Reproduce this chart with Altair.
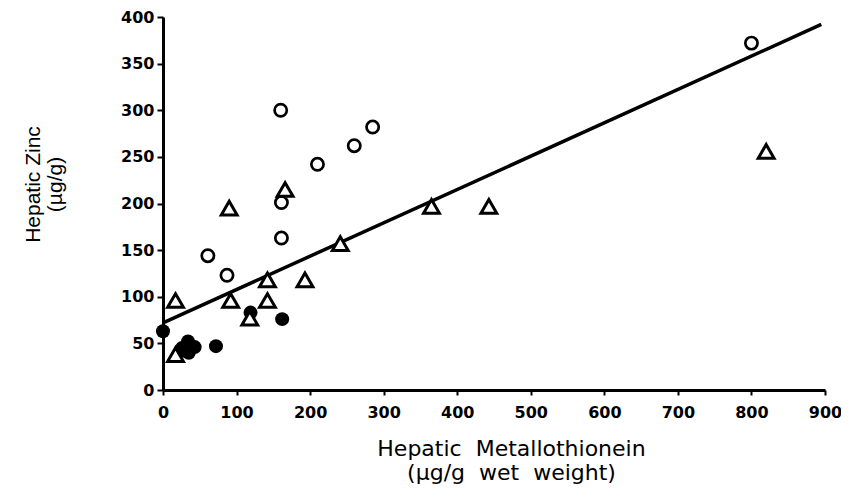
import altair as alt
import pandas as pd

# ---- data ----
open_circle_x = [61, 87, 160, 161, 161, 210, 260, 285, 800]
open_circle_y = [144, 123, 300, 201, 163, 242, 262, 282, 372]

triangle_x = [17, 17, 90, 92, 118, 142, 142, 166, 193, 241, 365, 443, 820]
triangle_y = [96, 38, 195, 96, 77, 118, 96, 215, 118, 157, 197, 197, 256]

filled_x = [0, 26, 30, 34, 35, 43, 72, 119, 162]
filled_y = [63, 45, 42, 52, 40, 46, 47, 83, 76]

fit_x = [0, 895]
fit_y = [72, 392]

x_ticks = list(range(0, 901, 50))
y_ticks = list(range(0, 401, 50))

x_title = ["Hepatic\u00a0 Metallothionein", "(µg/g\u00a0 wet\u00a0 weight)"]
y_title = ["Hepatic Zinc", "(µg/g)"]

circles = pd.DataFrame({"x": open_circle_x, "y": open_circle_y})
triangles = pd.DataFrame({"x": triangle_x, "y": triangle_y})
filled = pd.DataFrame({"x": filled_x, "y": filled_y})
fit = pd.DataFrame({"x": fit_x, "y": fit_y})

xscale = alt.Scale(domain=[0, 900], nice=False, zero=False)
yscale = alt.Scale(domain=[0, 400], nice=False, zero=False)

xaxis = alt.Axis(
    values=x_ticks,
    labelExpr="datum.value % 100 == 0 ? datum.label : ''",
    title=x_title,
    titleFont="DejaVu Sans",
    titleFontSize=22,
    titleFontWeight="normal",
    titleColor="black",
    titleX=348,
    titleY=65,
    titleAlign="center",
    titleBaseline="alphabetic",
    titleLineHeight=24,
    labelFont="DejaVu Sans",
    labelFontSize=16,
    labelFontWeight="bold",
    labelColor="black",
    labelPadding=9,
    labelFlush=False,
    labelOverlap=False,
    tickSize=5,
    tickWidth=2,
    tickColor="black",
    domainWidth=3,
    domainColor="black",
    grid=False,
)

yaxis = alt.Axis(
    values=y_ticks,
    title=y_title,
    titleFont="Liberation Sans",
    titleFontSize=21,
    titleFontWeight="normal",
    titleColor="black",
    titleAngle=270,
    titleX=-141,
    titleY=167,
    titleAlign="center",
    titleBaseline="top",
    titleLineHeight=22,
    labelFont="DejaVu Sans",
    labelFontSize=16,
    labelFontWeight="bold",
    labelColor="black",
    labelPadding=3,
    labelFlush=False,
    labelOverlap=False,
    tickSize=6,
    tickWidth=2,
    tickColor="black",
    domainWidth=3,
    domainColor="black",
    grid=False,
)

line = alt.Chart(fit).mark_line(color="black", strokeWidth=3.5).encode(
    x=alt.X("x:Q", scale=xscale, axis=xaxis),
    y=alt.Y("y:Q", scale=yscale, axis=yaxis),
)

dots = alt.Chart(filled).mark_point(
    shape="circle", filled=True, fill="black", stroke="black", strokeWidth=0,
    size=195, opacity=1,
).encode(x="x:Q", y="y:Q")

rings = alt.Chart(circles).mark_point(
    shape="circle", filled=True, fill="white", stroke="black", strokeWidth=2.7,
    size=150, opacity=1, fillOpacity=1, strokeOpacity=1,
).encode(x="x:Q", y="y:Q")

tris = alt.Chart(triangles).mark_point(
    shape="triangle-up", filled=True, fill="white", stroke="black", strokeWidth=3,
    size=250, opacity=1, fillOpacity=1, strokeOpacity=1,
).encode(x="x:Q", y="y:Q")

chart = (
    alt.layer(line, dots, rings, tris)
    .properties(
        width=662,
        height=373,
        autosize=alt.AutoSizeParams(type="none"),
        padding={"left": 155, "top": 9, "right": 16, "bottom": 95},
        background="white",
    )
    .configure_view(stroke=None)
)

chart.save("out.html", embed_options={"renderer": "svg", "actions": False})
